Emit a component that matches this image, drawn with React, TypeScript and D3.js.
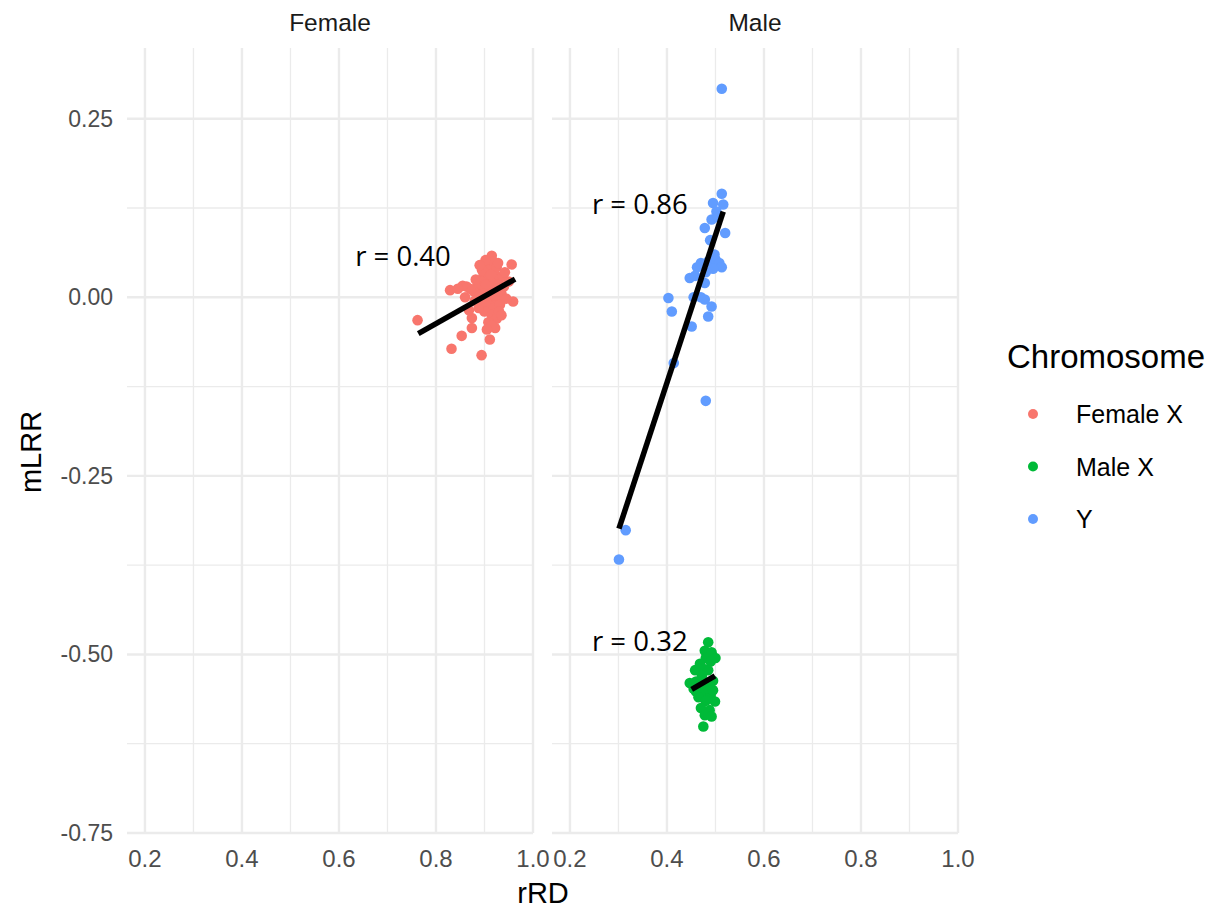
import React from "react";
import * as d3 from "d3";

// ---- data (rRD, mLRR) ----
const femaleX: [number, number][] = [
  [0.762, -0.032], [0.829, 0.010], [0.832, -0.072], [0.853, -0.054], [0.894, -0.081],
  [0.911, -0.059], [0.922, -0.043], [0.874, -0.029], [0.874, -0.043], [0.863, 0.015],
  [0.915, 0.058], [0.956, 0.046], [0.959, -0.006],
  [0.905, 0.045], [0.912, 0.040], [0.920, 0.035], [0.898, 0.030], [0.908, 0.028],
  [0.925, 0.025], [0.893, 0.022], [0.915, 0.020], [0.930, 0.018], [0.885, 0.015],
  [0.900, 0.012], [0.912, 0.010], [0.922, 0.008], [0.935, 0.005], [0.878, 0.008],
  [0.890, 0.003], [0.905, 0.000], [0.918, -0.002], [0.928, -0.005], [0.895, -0.008],
  [0.910, -0.012], [0.920, -0.015], [0.932, -0.010], [0.900, -0.020], [0.915, -0.025],
  [0.925, -0.030], [0.908, -0.035], [0.918, 0.050], [0.902, 0.052], [0.925, 0.042],
  [0.895, 0.038], [0.882, 0.025], [0.870, 0.012], [0.940, 0.015], [0.945, -0.002],
  [0.938, 0.030], [0.888, -0.015], [0.880, -0.005], [0.913, 0.032], [0.903, 0.018],
  [0.927, 0.012], [0.897, 0.005], [0.915, -0.040], [0.930, -0.020], [0.860, 0.000],
  [0.868, -0.018], [0.855, 0.016], [0.845, 0.012], [0.920, 0.003], [0.905, -0.045],
  [0.890, 0.045], [0.928, 0.048], [0.942, 0.035], [0.935, -0.025], [0.950, 0.022],
];

const maleX: [number, number][] = [
  [0.485, -0.483], [0.478, -0.495], [0.492, -0.497], [0.480, -0.505], [0.468, -0.513],
  [0.490, -0.510], [0.500, -0.505], [0.475, -0.520], [0.458, -0.522], [0.485, -0.522],
  [0.447, -0.540], [0.460, -0.538], [0.470, -0.545], [0.482, -0.540], [0.495, -0.537],
  [0.460, -0.552], [0.475, -0.555], [0.490, -0.558], [0.499, -0.566], [0.465, -0.560],
  [0.480, -0.565], [0.470, -0.575], [0.488, -0.578], [0.478, -0.585], [0.492, -0.587],
  [0.475, -0.601], [0.455, -0.548], [0.485, -0.548], [0.495, -0.550], [0.472, -0.530],
];

const chrY: [number, number][] = [
  [0.513, 0.292], [0.513, 0.145], [0.495, 0.132], [0.516, 0.130], [0.502, 0.120],
  [0.492, 0.109], [0.478, 0.097], [0.520, 0.090], [0.489, 0.080], [0.505, 0.112],
  [0.498, 0.060], [0.470, 0.048], [0.485, 0.050], [0.500, 0.053], [0.508, 0.048],
  [0.513, 0.042], [0.462, 0.042], [0.480, 0.035], [0.495, 0.040], [0.447, 0.027],
  [0.458, 0.030], [0.478, 0.020], [0.403, -0.001], [0.455, 0.000], [0.470, 0.000],
  [0.478, -0.003], [0.492, -0.013], [0.410, -0.020], [0.485, -0.027], [0.451, -0.041],
  [0.414, -0.092], [0.480, -0.145], [0.315, -0.326], [0.301, -0.367],
];

// regression line endpoints [x1, y1, x2, y2]
const fitFemaleX = [0.7635, -0.051, 0.963, 0.0255];
const fitY = [0.301, -0.324, 0.516, 0.120];
const fitMaleX = [0.451, -0.549, 0.499, -0.530];

// annotations [x, y, label]
const labelFemale: [number, number, string] = [0.732, 0.058, "r = 0.40"];
const labelY: [number, number, string] = [0.344, 0.131, "r = 0.86"];
const labelMaleX: [number, number, string] = [0.344, -0.481, "r = 0.32"];

const panels = ["Female", "Male"];
const seriesNames = ["Female X", "Male X", "Y"];
const seriesColors = ["#F8766D", "#00BA38", "#619CFF"];

const xMajor = [0.2, 0.4, 0.6, 0.8, 1.0];
const xMinor = [0.3, 0.5, 0.7, 0.9];
const yMajor = [0.25, 0, -0.25, -0.5, -0.75];
const yMinor = [0.125, -0.125, -0.375, -0.625];

const W = 1222;
const H = 910;
const panelTop = 48;
const panelBottom = 833;
const panelRanges: [number, number][] = [
  [127, 533],
  [552, 958],
];
const xDomain: [number, number] = [0.163, 1.0];
const yDomain: [number, number] = [-0.75, 0.349];

const SANS = "'Liberation Sans', Arial, Helvetica, sans-serif";

export default function App() {
  const y = d3.scaleLinear().domain(yDomain).range([panelBottom, panelTop]);
  const xs = panelRanges.map((r) => d3.scaleLinear().domain(xDomain).range(r));

  const renderPanel = (pi: number) => {
    const x = xs[pi];
    const [x0, x1] = panelRanges[pi];
    const pts: { d: [number, number][]; c: string }[] =
      pi === 0
        ? [{ d: femaleX, c: seriesColors[0] }]
        : [
            { d: maleX, c: seriesColors[1] },
            { d: chrY, c: seriesColors[2] },
          ];
    const fits = pi === 0 ? [fitFemaleX] : [fitY, fitMaleX];
    const labels = pi === 0 ? [labelFemale] : [labelY, labelMaleX];
    return (
      <g key={pi}>
        {yMinor.map((v) => (
          <line key={"ym" + v} x1={x0} x2={x1} y1={y(v)} y2={y(v)} stroke="#EBEBEB" strokeWidth={1.3} />
        ))}
        {xMinor.map((v) => (
          <line key={"xm" + v} x1={x(v)} x2={x(v)} y1={panelTop} y2={panelBottom} stroke="#EBEBEB" strokeWidth={1.3} />
        ))}
        {yMajor.map((v) => (
          <line key={"yM" + v} x1={x0} x2={x1} y1={y(v)} y2={y(v)} stroke="#EBEBEB" strokeWidth={2.4} />
        ))}
        {xMajor.map((v) => (
          <line key={"xM" + v} x1={x(v)} x2={x(v)} y1={panelTop} y2={panelBottom} stroke="#EBEBEB" strokeWidth={2.4} />
        ))}
        <text
          x={(x0 + x1) / 2}
          y={31}
          textAnchor="middle"
          fontFamily={SANS}
          fontSize={24.5}
          fill="#1A1A1A"
        >
          {panels[pi]}
        </text>
        {xMajor.map((v) => (
          <text
            key={"xl" + v}
            x={x(v)}
            y={867}
            textAnchor="middle"
            fontFamily={SANS}
            fontSize={24}
            fill="#4D4D4D"
          >
            {v.toFixed(1)}
          </text>
        ))}
        {pts.map((s, si) =>
          s.d.map((p, i) => <circle key={si + "-" + i} cx={x(p[0])} cy={y(p[1])} r={5.3} fill={s.c} />)
        )}
        {fits.map((f, i) => (
          <line
            key={"f" + i}
            x1={x(f[0])}
            y1={y(f[1])}
            x2={x(f[2])}
            y2={y(f[3])}
            stroke="#000"
            strokeWidth={5.5}
          />
        ))}
        {labels.map((l, i) => (
          <text
            key={"l" + i}
            x={x(l[0])}
            y={y(l[1])}
            textAnchor="middle"
            dominantBaseline="central"
            fontFamily="'Open Sans', sans-serif"
            fontSize={27.5}
            fill="#000"
          >
            {l[2]}
          </text>
        ))}
      </g>
    );
  };

  return (
    <svg
      width={W}
      height={H}
      style={{ position: "absolute", left: 0, top: 0, background: "#fff" }}
    >
      <rect width={W} height={H} fill="#fff" />
      {panels.map((_, i) => renderPanel(i))}
      {yMajor.map((v) => (
        <text
          key={"yl" + v}
          x={113}
          y={y(v)}
          textAnchor="end"
          dominantBaseline="central"
          fontFamily={SANS}
          fontSize={23}
          fill="#4D4D4D"
        >
          {v.toFixed(2)}
        </text>
      ))}
      <text x={543} y={903} textAnchor="middle" fontFamily={SANS} fontSize={29} fill="#000">
        rRD
      </text>
      <text
        transform={`translate(41, 452) rotate(-90)`}
        textAnchor="middle"
        fontFamily={SANS}
        fontSize={29}
        fill="#000"
      >
        mLRR
      </text>
      <text x={1007} y={368} fontFamily={SANS} fontSize={33} fill="#000">
        Chromosome
      </text>
      {seriesNames.map((n, i) => (
        <g key={n} transform={`translate(0, ${414 + i * 52.5})`}>
          <circle cx={1033} cy={0} r={5} fill={seriesColors[i]} />
          <text x={1076} y={0} dominantBaseline="central" fontFamily={SANS} fontSize={25} fill="#000">
            {n}
          </text>
        </g>
      ))}
    </svg>
  );
}
